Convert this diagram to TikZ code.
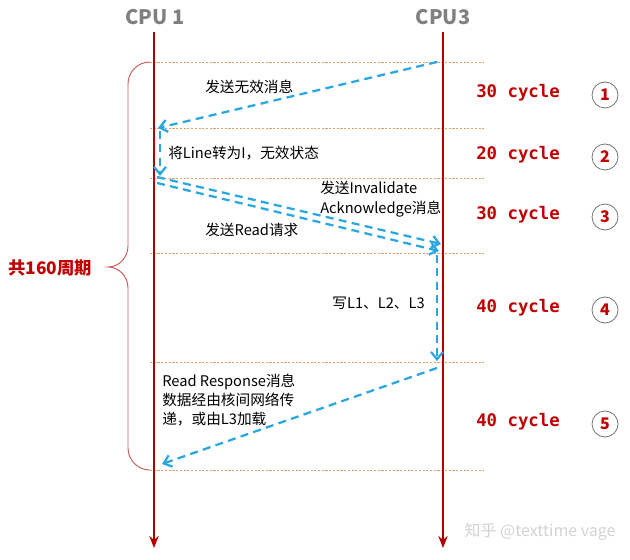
\documentclass[tikz,border=0pt]{standalone}
\usepackage{fontspec}
\setmainfont{Noto Sans CJK SC}
\newfontfamily\cyclefont{DejaVu Sans Mono}
\usetikzlibrary{arrows.meta}
\definecolor{lifered}{HTML}{B00000}
\definecolor{cyclered}{HTML}{C00000}
\definecolor{msgblue}{HTML}{2AA7DF}
\definecolor{rowline}{HTML}{E3A06E}
\definecolor{bracered}{HTML}{C55A5A}

\begin{document}
\begin{tikzpicture}
	[x=0.75pt, y=-0.75pt,
	 cpu/.style={text=gray, font=\fontsize{15}{18}\selectfont\bfseries},
	 life/.style={draw=lifered, line width=1.9pt, -{Stealth[length=9pt,width=7pt]}},
	 row/.style={draw=rowline, line width=0.6pt, dash pattern=on 1.6pt off 1.2pt},
	 msg/.style={draw=msgblue, line width=1.7pt, dash pattern=on 6pt off 4pt, -{Straight Barb[length=5.5pt,width=9pt]}},
	 txt/.style={font=\fontsize{11}{14}\selectfont, align=left, inner sep=0pt},
	 cyc/.style={text=cyclered, font=\fontsize{13}{15}\cyclefont\bfseries},
	 num/.style={circle, draw=gray!90!black, line width=0.6pt, minimum size=19.5pt, inner sep=0pt, text=cyclered, font=\fontsize{12}{14}\selectfont\bfseries}]
	\useasboundingbox (0,0) rectangle (630,559);
	\node[cpu] (cpu1) at (155,17) {CPU 1};
	\node[cpu] (cpu3) at (443,17) {CPU3};
	\coordinate (t1) at (154,32);
	\coordinate (e1) at (154,548);
	\coordinate (t3) at (443,32);
	\coordinate (e3) at (443,548);
	\foreach \r/\y in {0/62, 1/128, 2/178, 3/253, 4/362, 5/470} {
		\coordinate (l\r) at (150,\y);
		\coordinate (r\r) at (485,\y);
		\draw[row] (l\r) -- (r\r);
	}
	\draw[life] (t1) -- (e1);
	\draw[life] (t3) -- (e3);
	\draw[draw=bracered, line width=0.7pt] (l0) to[out=180,in=90] (128,84) -- (128,246)
		to[out=-90,in=0] (108,267) to[out=0,in=90] (128,288) -- (128,448) to[out=-90,in=180] (l5);
	\node[text=cyclered, font=\fontsize{13}{15}\selectfont\bfseries] (total) at (50,268) {共160周期};
	\coordinate (m1s) at (437,62);
	\coordinate (m1e) at (158,128);
	\coordinate (m2s) at (160,131);
	\coordinate (m2e) at (160,176);
	\coordinate (m3s) at (157,177);
	\coordinate (m3e) at (441,244);
	\coordinate (m3bs) at (157,183);
	\coordinate (m3be) at (439,251);
	\coordinate (m4s) at (437,255);
	\coordinate (m4e) at (437,361);
	\coordinate (m5s) at (437,368);
	\coordinate (m5e) at (162,464);
	\draw[msg] (m1s) -- (m1e);
	\draw[msg] (m2s) -- (m2e);
	\draw[msg] (m3s) -- (m3e);
	\draw[msg] (m3bs) -- (m3be);
	\draw[msg] (m4s) -- (m4e);
	\draw[msg] (m5s) -- (m5e);
	\node[txt, anchor=west] (lab1) at (205,87) {发送无效消息};
	\node[txt, anchor=west] (lab2) at (168,153) {将Line转为I，无效状态};
	\node[txt, anchor=north west] (lab3) at (320,181) {发送Invalidate\\[1pt]Acknowledge消息};
	\node[txt, anchor=west] (lab3b) at (205,230) {发送Read请求};
	\node[txt, anchor=east] (lab4) at (425,303) {写L1、L2、L3};
	\node[txt, anchor=north west] (lab5) at (162,374) {Read Response消息\\数据经由核间网络传\\递，或由L3加载};
	\foreach \i/\c/\y in {1/30/95, 2/20/157, 3/30/217, 4/40/310, 5/40/424} {
		\node[cyc] (cyc\i) at (518,\y-2) {\c{} cycle};
		\node[num] (num\i) at (605,\y) {\i};
	}
	\node[text=gray!35, font=\fontsize{12}{14}\selectfont] (mark) at (540,532) {知乎 @texttime vage};
\end{tikzpicture}
\end{document}
